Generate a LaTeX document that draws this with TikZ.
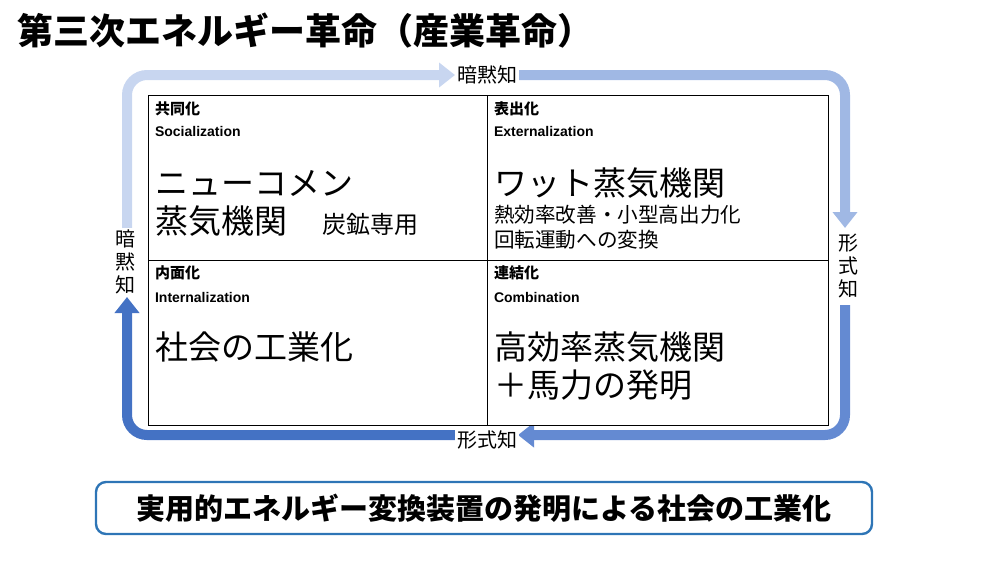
\documentclass[tikz,border=0pt]{standalone}
\usepackage{fontspec}
\newfontfamily\jp{Noto Sans CJK JP}
\setsansfont{Liberation Sans}
\usetikzlibrary{arrows.meta}
\definecolor{looplight}{RGB}{200,214,240}
\definecolor{loopmid}{RGB}{160,184,228}
\definecolor{loopdark}{RGB}{100,138,210}
\definecolor{loopdeep}{RGB}{68,114,196}
\definecolor{boxblue}{RGB}{46,117,182}
\begin{document}
\begin{tikzpicture}[x=0.5pt,y=-0.5pt,
    band/.style={line width=5pt, rounded corners=10pt, -{Triangle[width=12pt,length=8pt]}},
    head/.style={anchor=west, font=\jp\bfseries\fontsize{7.5}{9}\selectfont},
    engl/.style={anchor=west, font=\sffamily\bfseries\fontsize{7}{8}\selectfont},
    big/.style={anchor=west, font=\jp\fontsize{16.5}{19}\selectfont},
    small/.style={anchor=west, font=\jp\fontsize{10.3}{13}\selectfont},
    tacit/.style={font=\jp\fontsize{10}{11.5}\selectfont, fill=white, inner sep=1pt, align=center}
  ]
  \useasboundingbox (0,0) rectangle (1000,562);
  % Title
  \node (title) [anchor=west, font=\jp\bfseries\fontsize{18}{20}\selectfont] at (10,31) {第三次エネルギー革命（産業革命）};
  % Loop
  \coordinate (tl0) at (127,232); \coordinate (tl1) at (455,75);
  \coordinate (tr0) at (518,75);  \coordinate (tr1) at (845,228);
  \coordinate (br0) at (845,305); \coordinate (br1) at (518,435);
  \coordinate (bl0) at (455,435); \coordinate (bl1) at (127,297);
  \draw[band, looplight] (tl0) -- (127,75) -- (tl1);
  \draw[band, loopmid] (tr0) -- (845,75) -- (tr1);
  \draw[band, loopdark] (br0) -- (845,435) -- (br1);
  \draw[band, loopdeep] (bl0) -- (127,435) -- (bl1);
  \node (topl) [tacit] at (487,75) {暗黙知};
  \node (botl) [tacit] at (487,440) {形式知};
  \node (leftl) [tacit] at (125,262) {暗\\黙\\知};
  \node (rightl) [tacit] at (848,266) {形\\式\\知};
  % Matrix
  \draw[fill=white] (148,95) rectangle (828,425);
  \draw (487,95) -- (487,425);
  \draw (148,260) -- (828,260);
  % Socialization
  \node (soc) [head] at (148,109) {共同化};
  \node (soce) [engl] at (148,131) {Socialization};
  \node (soc1) [big] at (148,183) {ニューコメン};
  \node (soc2) [big] at (148,221) {蒸気機関};
  \node (soc3) [anchor=west, font=\jp\fontsize{12}{14}\selectfont] at (315,224) {炭鉱専用};
  % Externalization
  \node (ext) [head] at (487,109) {表出化};
  \node (exte) [engl] at (487,131) {Externalization};
  \node (ext1) [big] at (487,183) {ワット蒸気機関};
  \node (ext2) [small] at (487,215) {熱効率改善・小型高出力化};
  \node (ext3) [small] at (487,240) {回転運動への変換};
  % Internalization
  \node (int) [head] at (148,273) {内面化};
  \node (inte) [engl] at (148,297) {Internalization};
  \node (int1) [big] at (148,347) {社会の工業化};
  % Combination
  \node (com) [head] at (487,273) {連結化};
  \node (come) [engl] at (487,297) {Combination};
  \node (com1) [big] at (487,347) {高効率蒸気機関};
  \node (com2) [big] at (487,385) {＋馬力の発明};
  % Summary
  \node (sum) [draw=boxblue, line width=1.2pt, rounded corners=5pt, minimum width=388pt, minimum height=26pt,
    font=\jp\bfseries\fontsize{14.5}{16}\selectfont] at (484,508) {実用的エネルギー変換装置の発明による社会の工業化};
\end{tikzpicture}
\end{document}
